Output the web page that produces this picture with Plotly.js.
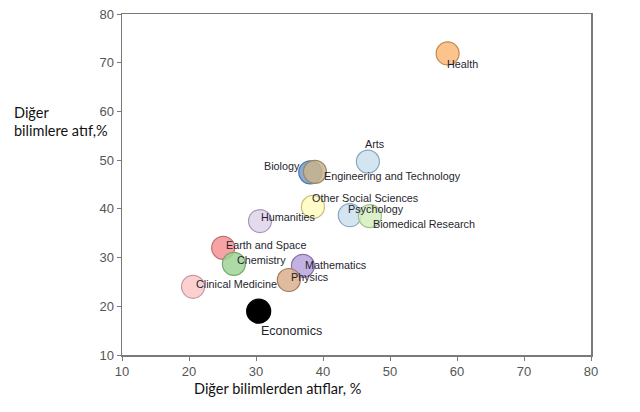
<!DOCTYPE html>
<html>
<head>
<meta charset="utf-8">
<script src="https://cdn.plot.ly/plotly-3.0.1.min.js"></script>
<style>
  body { margin: 0; background: #fff; }
  #chart { width: 640px; height: 412px; }
</style>
</head>
<body>
<div id="chart"></div>
<script>
// alanlar ve atif oranlari
var fields = ['Health', 'Arts', 'Biology', 'Engineering and Technology', 'Other Social Sciences',
  'Psychology', 'Biomedical Research', 'Humanities', 'Earth and Space', 'Chemistry',
  'Mathematics', 'Physics', 'Clinical Medicine', 'Economics'];
var citedFromOthers = [58.6, 46.7, 38.1, 38.8, 38.5, 44.0, 47.0, 30.6, 25.1, 26.7, 37.0, 34.9, 20.6, 30.4];
var citingOthers = [71.9, 49.7, 47.5, 47.6, 40.4, 38.7, 38.5, 37.5, 32.0, 28.7, 28.3, 25.4, 24.0, 19.0];

var fillColors = ['rgba(253,185,120,0.85)', 'rgba(200,222,238,0.8)', 'rgba(110,150,200,0.8)',
  'rgba(200,180,140,0.85)', 'rgba(255,252,190,0.85)', 'rgba(200,222,238,0.8)',
  'rgba(215,238,190,0.85)', 'rgba(222,212,236,0.85)', 'rgba(242,140,140,0.8)',
  'rgba(160,212,150,0.85)', 'rgba(185,165,220,0.85)', 'rgba(220,175,140,0.85)',
  'rgba(250,200,200,0.85)', 'rgb(0,0,0)'];
var lineColors = ['#c08850', '#8aa8c0', '#4a78b0', '#9a8660', '#c8c078', '#8aa8c0',
  '#a8c090', '#a898b8', '#c07070', '#78a870', '#8870a8', '#a07860', '#c89898', '#000'];

// label placement: [xanchor, xshift, yshift]
var labelPos = [
  ['left', -3, -11], ['left', -5, 18], ['right', -8, 6], ['left', 7, -4],
  ['left', -3, 9], ['left', -4, 6], ['left', 1, -8], ['left', -1, 4],
  ['left', 1, 3], ['left', 1, 4], ['left', 0, 1], ['left', 0, 3],
  ['left', 1, 3], ['left', 0, -20]
];

var sizes = fields.map(function (f) { return f === 'Economics' ? 24 : 23; });

var trace = {
  x: citedFromOthers,
  y: citingOthers,
  text: fields,
  mode: 'markers',
  type: 'scatter',
  hoverinfo: 'text',
  marker: {
    size: sizes,
    opacity: 1,
    color: fillColors,
    line: { color: lineColors, width: 1.2 }
  }
};

var annotations = fields.map(function (f, i) {
  return {
    x: citedFromOthers[i],
    y: citingOthers[i],
    xref: 'x', yref: 'y',
    text: f,
    showarrow: false,
    xanchor: labelPos[i][0],
    yanchor: 'middle',
    xshift: labelPos[i][1],
    yshift: labelPos[i][2],
    font: {
      family: 'Liberation Sans, Arial, sans-serif',
      size: f === 'Economics' ? 12.5 : 10.8,
      color: '#1f1f2e'
    }
  };
});

var titleFont = { family: 'Lato, sans-serif', size: 14.5, color: '#111' };
annotations.push({
  xref: 'paper', yref: 'paper',
  x: -0.235, y: 0.712,
  xanchor: 'left', yanchor: 'middle',
  text: 'Diğer',
  showarrow: false,
  font: titleFont
});
annotations.push({
  xref: 'paper', yref: 'paper',
  x: -0.235, y: 0.659,
  xanchor: 'left', yanchor: 'middle',
  text: 'bilimlere atıf,%',
  showarrow: false,
  font: titleFont
});
annotations.push({
  xref: 'paper', yref: 'paper',
  x: 0.149, y: -0.099,
  xanchor: 'left', yanchor: 'middle',
  text: 'Diğer bilimlerden atıflar, %',
  showarrow: false,
  font: titleFont
});

var axisStyle = {
  range: [10, 80],
  dtick: 10,
  showgrid: false,
  zeroline: false,
  showline: true,
  mirror: true,
  linecolor: '#7a7a7a',
  linewidth: 1.5,
  ticks: 'outside',
  ticklen: 4,
  tickcolor: '#7a7a7a',
  tickfont: { family: 'Liberation Sans, Arial, sans-serif', size: 13, color: '#555' }
};

var layout = {
  width: 640,
  height: 412,
  margin: { l: 122, r: 49, t: 14, b: 57 },
  paper_bgcolor: '#fff',
  plot_bgcolor: '#fff',
  showlegend: false,
  xaxis: Object.assign({}, axisStyle),
  yaxis: Object.assign({}, axisStyle),
  annotations: annotations
};

Plotly.newPlot('chart', [trace], layout, { displayModeBar: false, staticPlot: true });
</script>
</body>
</html>
